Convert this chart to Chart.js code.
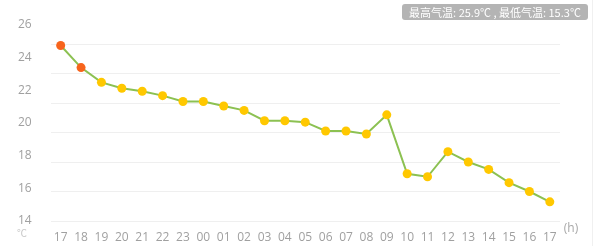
<!DOCTYPE html>
<html>
<head>
<meta charset="utf-8">
<script src="https://cdn.jsdelivr.net/npm/chart.js@4/dist/chart.umd.min.js"></script>
<style>
  html, body { margin: 0; padding: 0; background: #fff; }
  #wrap { position: relative; width: 600px; height: 246px; }
  #edge { position: absolute; left: 592px; top: 0; width: 1px; height: 246px; background: #f0f0f0; }
  #summary {
    position: absolute; left: 402px; top: 4px; width: 186px; height: 16px;
    background: #b4b4b4; border-radius: 3px; color: #fff;
    font: 11px "Noto Sans CJK SC", "Open Sans", sans-serif; line-height: 16px; text-align: center;
  }
</style>
</head>
<body>
<div id="wrap">
  <canvas id="chart" width="600" height="246"></canvas>
  <div id="edge"></div>
  <div id="summary"></div>
</div>
<script>
const hours = ["17","18","19","20","21","22","23","00","01","02","03","04","05","06","07","08","09","10","11","12","13","14","15","16","17"]
const temps = [25.9, 24.4, 23.4, 23.0, 22.8, 22.5, 22.1, 22.1, 21.8, 21.5, 20.8, 20.8, 20.7, 20.1, 20.1, 19.9, 21.2, 17.2, 17.0, 18.7, 18.0, 17.5, 16.6, 16.0, 15.3]
const yLabels = [14, 16, 18, 20, 22, 24, 26]

document.getElementById("summary").textContent =
  "最高气温: " + Math.max(...temps) + "℃ , 最低气温: " + Math.min(...temps) + "℃"

// the two hottest hours get the orange dot
var pointColors = temps.map(t => t >= 24 ? "#f7641c" : "#ffc800")

const unitLabels = {
  id: "unitLabels",
  afterDraw(chart) {
    var ctx = chart.ctx
    ctx.save()
    ctx.textBaseline = "middle"
    ctx.textAlign = "center"
    ctx.fillStyle = "#a8a8a8"
    ctx.font = "12px 'Open Sans', sans-serif"
    ctx.fillText("(h)", 571, 229)
    ctx.fillStyle = "#c8c8c8"
    ctx.font = "10px 'Noto Sans CJK SC', sans-serif"
    ctx.fillText("℃", 22, 233)
    ctx.restore()
  }
}

var ctx = document.getElementById("chart").getContext("2d")
new Chart(ctx, {
  type: "line",
  data: {
    labels: hours,
    datasets: [{
      data: temps,
      yAxisID: "y",
      borderColor: "#8cc152",
      borderWidth: 2,
      tension: 0,
      pointRadius: 4.5,
      pointHoverRadius: 4.5,
      pointBorderWidth: 0,
      pointBackgroundColor: pointColors,
      pointBorderColor: pointColors
    }]
  },
  options: {
    responsive: false,
    animation: false,
    layout: { padding: { top: 25, right: 40, left: 18, bottom: 0 } },
    plugins: { legend: { display: false }, tooltip: { enabled: false } },
    scales: {
      x: {
        type: "category",
        offset: true,
        grid: { display: false },
        border: { display: false },
        ticks: { color: "#a0a0a0", font: { size: 12, family: "'Open Sans', sans-serif" }, padding: 1, maxRotation: 0, autoSkip: false },
        afterFit(scale) { scale.height = 25 }
      },
      // data scale: draws the grid, labels hidden
      y: {
        position: "left",
        min: 14,
        max: 27.29,
        grid: { color: "#efefef", lineWidth: 1, drawTicks: false },
        border: { display: false },
        ticks: { display: false, padding: 0 },
        afterBuildTicks(scale) { scale.ticks = yLabels.map(v => ({ value: v })) },
        afterFit(scale) { scale.width = 0 }
      },
      // label scale: the tick texts sit on their own spacing in the original
      yl: {
        position: "left",
        min: 14,
        max: 26,
        grid: { display: false },
        border: { display: false },
        ticks: { color: "#a0a0a0", padding: 0, crossAlign: "far", font: { size: 12, family: "'Open Sans', sans-serif" } },
        afterBuildTicks(scale) { scale.ticks = yLabels.map(v => ({ value: v })) },
        afterFit(scale) { scale.width = 32.5 }
      }
    }
  },
  plugins: [unitLabels]
})
</script>
</body>
</html>
